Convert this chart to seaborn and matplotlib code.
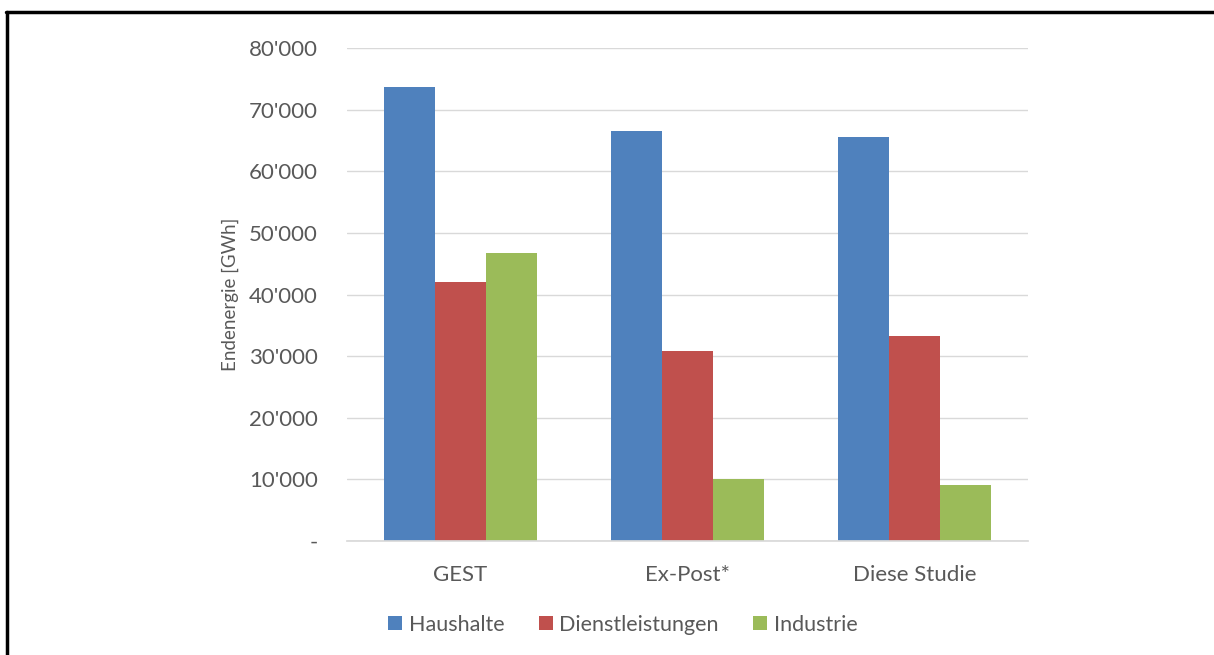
import matplotlib
matplotlib.use("Agg")
import matplotlib.pyplot as plt
import matplotlib.ticker as mticker
from matplotlib.lines import Line2D
import seaborn as sns
import pandas as pd

categories = ["GEST", "Ex-Post*", "Diese Studie"]
series = ["Haushalte", "Dienstleistungen", "Industrie"]
haushalte = [73600, 66500, 65500]
dienstleistungen = [42000, 30800, 33200]
industrie = [46700, 10000, 9100]
colors = ["#4F81BD", "#C0504D", "#9BBB59"]

rows = []
for s, vals in zip(series, [haushalte, dienstleistungen, industrie]):
    for c, v in zip(categories, vals):
        rows.append({"Kategorie": c, "Sektor": s, "Wert": v})
df = pd.DataFrame(rows)

sns.set_theme(style="white")
plt.rcParams['font.family'] = ['Lato', 'DejaVu Sans']

fig = plt.figure(figsize=(12.14, 6.55), dpi=100)
ax = fig.add_axes([0.2858, 0.174, 0.561, 0.7527])

sns.barplot(data=df, x="Kategorie", y="Wert", hue="Sektor", order=categories,
            hue_order=series, palette=colors, width=0.67, saturation=1,
            edgecolor="none", linewidth=0, ax=ax)

ax.set_ylim(0, 80000)
ax.set_xlim(-0.5, 2.5)
ax.yaxis.set_major_locator(mticker.MultipleLocator(10000))

def fmt(v, pos):
    if abs(v) < 1:
        return "-"
    return f"{int(round(v)):,}".replace(",", "'")

ax.yaxis.set_major_formatter(mticker.FuncFormatter(fmt))
ax.grid(axis="y", color="#D9D9D9", linewidth=1)
ax.set_axisbelow(True)
for sp in ax.spines.values():
    sp.set_visible(False)
ax.spines["bottom"].set_visible(True)
ax.spines["bottom"].set_color("#D9D9D9")
ax.tick_params(axis="y", length=0, pad=21, labelsize=16, labelcolor="#595959")
ax.tick_params(axis="x", length=0, pad=17, labelsize=16, labelcolor="#595959")
ax.set_xlabel("")
ax.set_ylabel("Endenergie [GWh]", fontsize=13.5, color="#595959", labelpad=7)

ax.legend(loc="upper center", bbox_to_anchor=(0.405, -0.11), ncol=3, frameon=False,
          fontsize=15.5, handlelength=0.65, handleheight=0.65, handletextpad=0.3,
          columnspacing=1.6, labelcolor="#595959")

# outer frame (top and left)
fig.add_artist(Line2D([6/1214, 1.0], [1 - 12/655, 1 - 12/655], transform=fig.transFigure,
                      color="black", linewidth=2.5))
fig.add_artist(Line2D([7/1214, 7/1214], [0, 1 - 12/655], transform=fig.transFigure,
                      color="black", linewidth=2.5))

fig.savefig("out.png", dpi=100)
